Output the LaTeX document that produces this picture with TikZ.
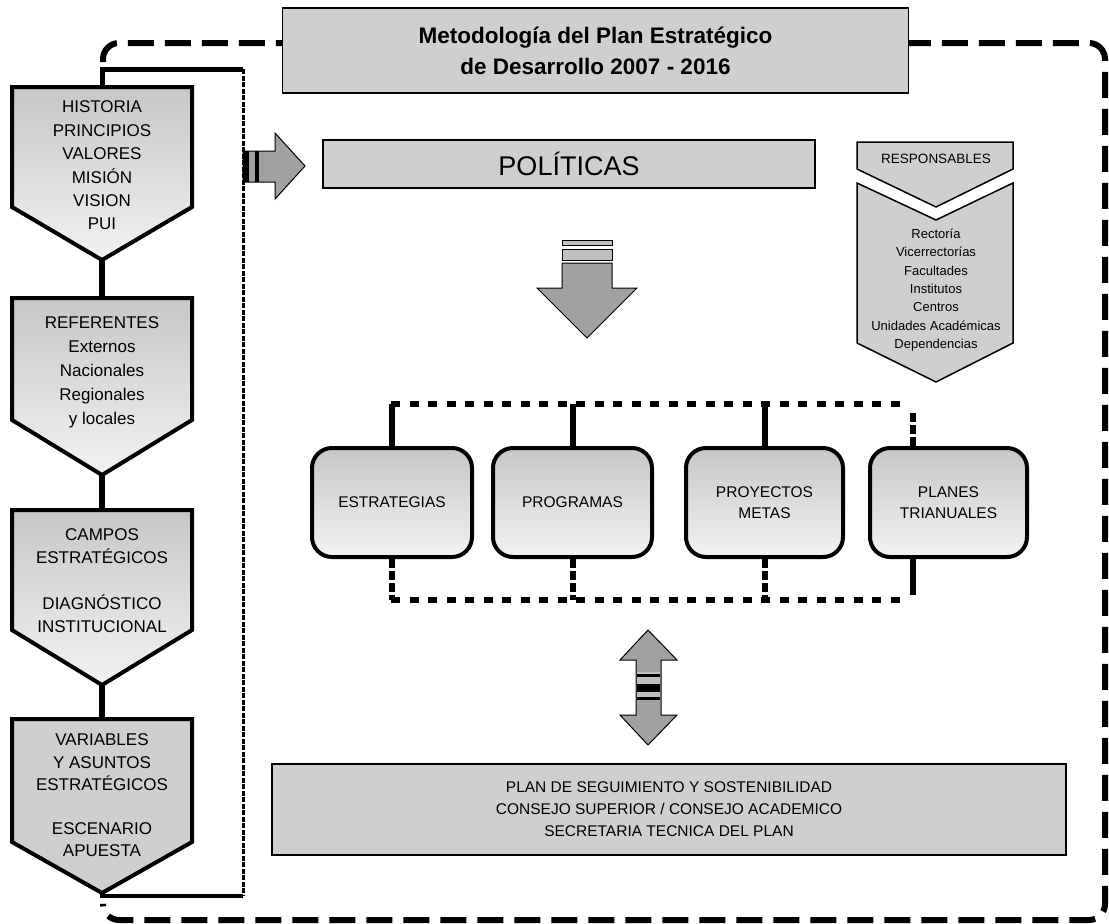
\documentclass[tikz,border=0pt]{standalone}
\usepackage{fontspec}
\setmainfont{Liberation Sans}
\usetikzlibrary{calc}
\definecolor{boxgray}{gray}{0.81}
\definecolor{arrowgray}{gray}{0.63}
\definecolor{stripegray}{gray}{0.75}
\definecolor{shadetop}{gray}{0.78}
\definecolor{shadebottom}{gray}{0.95}
\tikzset{
	chev/.style={draw, line width=4pt, top color=shadetop, bottom color=shadebottom},
	chevtext/.style={align=center, font=\fontsize{17}{23.4}\selectfont},
	flatbox/.style={draw, line width=1.5pt, fill=boxgray},
	roundbox/.style={draw, line width=4pt, rounded corners=20pt, top color=shadetop, bottom color=shadebottom,
			minimum height=109pt, align=center, inner sep=0pt, font=\fontsize{15.5}{21}\selectfont},
	blockarrow/.style={draw, line width=1pt, fill=arrowgray},
	groupdash/.style={line width=5.5pt, dash pattern=on 9pt off 9.5pt},
	linksolid/.style={line width=6pt},
	linkdash/.style={line width=6pt, dash pattern=on 9pt off 3pt}
}

\begin{document}
\begin{tikzpicture}[x=1pt, y=-1pt]
        \useasboundingbox (0,0) rectangle (1109,924);
        \draw[line width=6pt, dash pattern=on 26pt off 11pt, rounded corners=16pt] (103,62) -- (103,43) -- (1105,43) -- (1105,920) -- (103,920) -- (103,905);
        \node[flatbox, minimum width=626pt, minimum height=85pt, align=center, font=\bfseries\fontsize{22.5}{31}\selectfont] (title) at (595.5,50.5) {Metodología del Plan Estratégico\\de Desarrollo 2007 - 2016};

        \draw[chev] (12,87) -- (102,87) coordinate (histtop) -- (192,87) -- (192,207) -- (102,260) coordinate (histtip) -- (12,207) -- cycle;
        \node[chevtext] (hist) at (102,165.5) {HISTORIA\\PRINCIPIOS\\VALORES\\MISIÓN\\VISION\\PUI};
        \draw[chev] (12,298) -- (102,298) coordinate (refstop) -- (192,298) -- (192,420) -- (102,475) coordinate (refstip) -- (12,420) -- cycle;
        \node[chevtext, font=\fontsize{17}{24}\selectfont] (refs) at (102,372) {REFERENTES\\Externos\\Nacionales\\Regionales\\y locales};
        \draw[chev] (12,510) -- (102,510) coordinate (campostop) -- (192,510) -- (192,630) -- (102,685) coordinate (campostip) -- (12,630) -- cycle;
        \node[chevtext, font=\fontsize{17}{23}\selectfont] (campos) at (102,581) {CAMPOS\\ESTRATÉGICOS\\[23pt]DIAGNÓSTICO\\INSTITUCIONAL};
        \draw[chev, top color=boxgray, bottom color=boxgray] (12,719) -- (102,719) coordinate (varstop) -- (192,719) -- (192,842) -- (102,893) coordinate (varstip) -- (12,842) -- cycle;
        \node[chevtext, font=\fontsize{17}{22.2}\selectfont] (vars) at (102,795.5) {VARIABLES\\Y ASUNTOS\\ESTRATÉGICOS\\[22.2pt]ESCENARIO\\APUESTA};

        \draw[line width=6.5pt] (histtip) -- (refstop);
        \draw[line width=6.5pt] (refstip) -- (campostop);
        \draw[line width=6.5pt] (campostip) -- (varstop);
        \draw[line width=5pt] (histtop) -- (102,69) coordinate (loopnw) -- (243,69) coordinate (loopne);
        \draw[line width=4.5pt] (varstip) -- (102,896) coordinate (loopsw) -- (243,896) coordinate (loopse);
        \draw[line width=3pt, dash pattern=on 5pt off 1.5pt] (loopne) -- (loopse);

        \node[flatbox, minimum width=492pt, minimum height=48pt, font=\fontsize{27}{30}\selectfont] (pol) at (569,164) {POLÍTICAS};
        \draw[blockarrow] (243,151) -- (275,151) -- (275,133) -- (305,166) -- (275,199) -- (275,182) -- (243,182) -- cycle;
        \fill (243,151) rectangle (249,182);
        \fill (255,151) rectangle (259,182);

        \draw[blockarrow, fill=stripegray, line width=0.8pt] (562,240) rectangle (612,245);
        \draw[blockarrow, fill=stripegray, line width=0.8pt] (562,249) rectangle (612,260);
        \draw[blockarrow] (562,263) -- (612,263) -- (612,288) -- (637,288) -- (587,338) -- (537,288) -- (562,288) -- cycle;

        \draw[flatbox] (857,142) -- (1013,142) -- (1013,169) -- (936,207) -- (857,169) -- cycle;
        \node[font=\fontsize{13.5}{16}\selectfont] (resp) at (936,159) {RESPONSABLES};
        \draw[flatbox] (857,183) -- (936,220) -- (1013,183) -- (1013,343) -- (936,382) -- (857,343) -- cycle;
        \node[align=center, font=\fontsize{13}{18.3}\selectfont] (resplist) at (936,290) {Rectoría\\Vicerrectorías\\Facultades\\Institutos\\Centros\\Unidades Académicas\\Dependencias};

        \node[roundbox, minimum width=160pt] (estr) at (392,502.5) {ESTRATEGIAS};
        \node[roundbox, minimum width=159pt] (prog) at (572.5,502.5) {PROGRAMAS};
        \node[roundbox, minimum width=157pt] (proy) at (764.5,502.5) {PROYECTOS\\METAS};
        \node[roundbox, minimum width=157pt] (plan) at (948.5,502.5) {PLANES\\TRIANUALES};

        \coordinate (gnw) at (391,404);
        \coordinate (gne) at (905,404);
        \coordinate (gsw) at (391,600);
        \coordinate (gse) at (905,600);
        \draw[groupdash] (gnw) -- (gne);
        \draw[groupdash] (gsw) -- (gse);
        \draw[linksolid] (estr.north) -- (estr.north |- gnw);
        \draw[linkdash] (estr.south) -- (estr.south |- gsw);
        \draw[linksolid] (prog.north) -- (prog.north |- gnw);
        \draw[linkdash] (prog.south) -- (prog.south |- gsw);
        \draw[linksolid] (proy.north) -- (proy.north |- gnw);
        \draw[linkdash] (proy.south) -- (proy.south |- gsw);
        \coordinate (plantop) at ($(plan.north west)!0.28!(plan.north east)$);
        \coordinate (planbot) at ($(plan.south west)!0.28!(plan.south east)$);
        \draw[linkdash] (plantop) -- ++(0,-33);
        \draw[linksolid] (planbot) -- ++(0,36);

        \draw[blockarrow] (648,630) -- (677,660) -- (661,660) -- (661,715) -- (677,715) -- (648,745) -- (620,715) -- (636,715) -- (636,660) -- (620,660) -- cycle;
        \fill[stripegray] (637,672) rectangle (660,700);
        \fill (637,674) rectangle (660,677);
        \fill (637,684) rectangle (660,692);
        \fill (637,697) rectangle (660,700);

        \node[flatbox, minimum width=794pt, minimum height=91pt, align=center, font=\fontsize{15.5}{22}\selectfont] (seg) at (669,809.5) {PLAN DE SEGUIMIENTO Y SOSTENIBILIDAD\\CONSEJO SUPERIOR / CONSEJO ACADEMICO\\SECRETARIA TECNICA DEL PLAN};
    \end{tikzpicture}
\end{document}
